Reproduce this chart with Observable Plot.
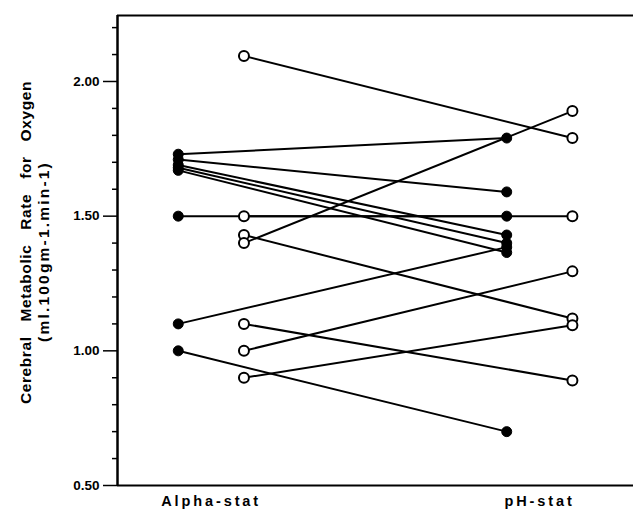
<!DOCTYPE html>
<html>
<head>
<meta charset="utf-8">
<script src="https://cdn.jsdelivr.net/npm/d3@7"></script>
<script src="https://cdn.jsdelivr.net/npm/@observablehq/plot@0.6"></script>
<style>
  html, body { margin: 0; padding: 0; background: #fff; }
  #chart svg { font-family: "Liberation Sans", Arial, sans-serif; display: block; }
</style>
</head>
<body>
<div id="chart"></div>
<script>
// Groups (x categories)
const groups = ["Alpha-stat", "pH-stat"];
const groupPos = [0, 1];

// Filled-circle subjects: Alpha-stat value -> pH-stat value
const filledAlpha = [1.73, 1.71, 1.69, 1.68, 1.67, 1.50, 1.10, 1.00];
const filledPH    = [1.79, 1.59, 1.43, 1.40, 1.365, 1.50, 1.385, 0.70];

// Open-circle subjects: Alpha-stat value -> pH-stat value
const openAlpha = [2.095, 1.50, 1.43, 1.40, 1.10, 1.00, 0.90];
const openPH    = [1.79, 1.50, 1.12, 1.89, 0.89, 1.295, 1.095];

// Axis ticks
const yMajorTicks = [0.5, 1.0, 1.5, 2.0];
const yMinorTicks = [0.6, 0.7, 0.8, 0.9, 1.1, 1.2, 1.3, 1.4, 1.6, 1.7, 1.8, 1.9, 2.1, 2.2];
const yLabelLines = ["Cerebral Metabolic Rate for Oxygen", "(ml.100gm-1.min-1)"];

const offset = 0.1; // filled to the left, open to the right of each group

const filled = filledAlpha.map((a, i) => ({a, p: filledPH[i]}));
const open = openAlpha.map((a, i) => ({a, p: openPH[i]}));

const filledPts = [
  ...filledAlpha.map(v => ({x: groupPos[0] - offset, y: v})),
  ...filledPH.map(v => ({x: groupPos[1] - offset, y: v}))
];
const openPts = [
  ...openAlpha.map(v => ({x: groupPos[0] + offset, y: v})),
  ...openPH.map(v => ({x: groupPos[1] + offset, y: v}))
];

const chart = Plot.plot({
  width: 633,
  height: 515,
  marginLeft: 117,
  marginRight: 0,
  marginTop: 15,
  marginBottom: 30,
  style: {fontFamily: "Liberation Sans, Arial, sans-serif", background: "#fff", color: "#000"},
  x: {domain: [-0.285, 1.286], axis: null},
  y: {domain: [0.5, 2.245], axis: null},
  marks: [
    // frame: left, top, bottom lines
    Plot.ruleY([0.5], {stroke: "#000", strokeWidth: 2}),
    Plot.ruleY([2.245], {stroke: "#000", strokeWidth: 2}),
    Plot.ruleX([-0.285], {stroke: "#000", strokeWidth: 2.5}),
    // y axis
    Plot.axisY(yMajorTicks, {
      tickSize: 14, tickPadding: 4, tickFormat: d3.format(".2f"),
      fontSize: 13.5, fontWeight: "bold", strokeWidth: 1.5, label: null
    }),
    Plot.axisY(yMinorTicks, {tickSize: 5, text: null, strokeWidth: 1.5, label: null}),
    // x axis labels
    Plot.axisX(groupPos, {
      tickSize: 0, tickPadding: 10, tickFormat: i => groups[i],
      fontSize: 14.5, fontWeight: "bold", label: null
    }),
    // y label (two lines)
    Plot.text([yLabelLines[0]], {
      frameAnchor: "left", text: d => d, rotate: -90, dx: -91, dy: -8,
      textAnchor: "middle", fontSize: 15.5, fontWeight: "bold"
    }),
    Plot.text([yLabelLines[1]], {
      frameAnchor: "left", text: d => d, rotate: -90, dx: -73, dy: 1,
      textAnchor: "middle", fontSize: 15.5, fontWeight: "bold"
    }),
    // connecting lines
    Plot.link(filled, {
      x1: () => groupPos[0] - offset, y1: "a",
      x2: () => groupPos[1] - offset, y2: "p",
      stroke: "#000", strokeWidth: 2
    }),
    Plot.link(open, {
      x1: () => groupPos[0] + offset, y1: "a",
      x2: () => groupPos[1] + offset, y2: "p",
      stroke: "#000", strokeWidth: 2
    }),
    // points
    Plot.dot(filledPts, {x: "x", y: "y", r: 5, fill: "#000", stroke: "#000", strokeWidth: 1}),
    Plot.dot(openPts, {x: "x", y: "y", r: 5, fill: "#fff", stroke: "#000", strokeWidth: 2})
  ]
});

// text spacing tweaks
d3.select(chart).selectAll("text").each(function() {
  const t = this.textContent;
  if (t === yLabelLines[0]) {
    this.style.wordSpacing = "10px";
    this.style.letterSpacing = "0.6px";
  } else if (t === yLabelLines[1]) {
    this.style.letterSpacing = "2.2px";
  } else if (groups.includes(t)) {
    this.style.letterSpacing = "2.9px";
  }
});

document.getElementById("chart").appendChild(chart);
</script>
</body>
</html>
